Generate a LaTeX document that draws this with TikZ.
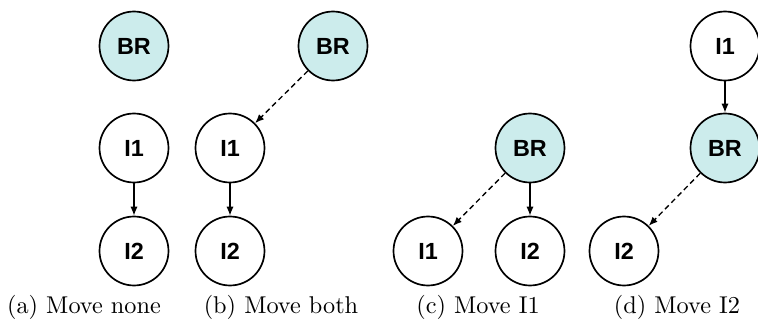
\documentclass[tikz,border=0pt]{standalone}
\usepackage{fontspec}
\usetikzlibrary{arrows.meta}
\newfontfamily\boxfont{Liberation Sans}
\definecolor{brcyan}{RGB}{204,236,236}
\tikzset{
  var/.style={circle, draw, line width=0.75pt, minimum size=30.7pt, inner sep=0pt,
    font=\boxfont\bfseries\fontsize{10.4}{12}\selectfont},
  brvar/.style={var, fill=brcyan},
  dep/.style={line width=0.6pt, -{Latex[length=4pt,width=3.2pt]}},
  moved/.style={dep, dash pattern=on 2.4pt off 1.6pt},
  subcap/.style={font=\fontsize{10.8}{13}\selectfont}
}

\begin{document}
\begin{tikzpicture}[x=0.445pt,y=-0.445pt]
%rows of the three levels, columns of the four cases
\newcommand{\rowt}{46}
\newcommand{\rowm}{148}
\newcommand{\rowb}{251}
\newcommand{\capy}{307}
\useasboundingbox (0,0) rectangle (758,320);

%(a) nothing moved
\node [brvar] (brA) at (134,\rowt) {BR};
\node [var] (iA) at (134,\rowm) {I1};
\node [var] (jA) at (134,\rowb) {I2};
\draw [dep] (iA) -- (jA);

%(b) both moved
\node [brvar] (brB) at (333,\rowt) {BR};
\node [var] (iB) at (230,\rowm) {I1};
\node [var] (jB) at (230,\rowb) {I2};
\draw [moved] (brB) -- (iB);
\draw [dep] (iB) -- (jB);

%(c) first one moved
\node [brvar] (brC) at (530,\rowm) {BR};
\node [var] (iC) at (428,\rowb) {I1};
\node [var] (jC) at (530,\rowb) {I2};
\draw [moved] (brC) -- (iC);
\draw [dep] (brC) -- (jC);

%(d) second one moved
\node [var] (iD) at (725,\rowt) {I1};
\node [brvar] (brD) at (725,\rowm) {BR};
\node [var] (jD) at (624,\rowb) {I2};
\draw [dep] (iD) -- (brD);
\draw [moved] (brD) -- (jD);

\node [subcap] (capA) at (84,\capy) {(a) Move none};
\node [subcap] (capB) at (281,\capy) {(b) Move both};
\node [subcap] (capC) at (478,\capy) {(c) Move I1};
\node [subcap] (capD) at (677,\capy) {(d) Move I2};
\end{tikzpicture}
\end{document}
